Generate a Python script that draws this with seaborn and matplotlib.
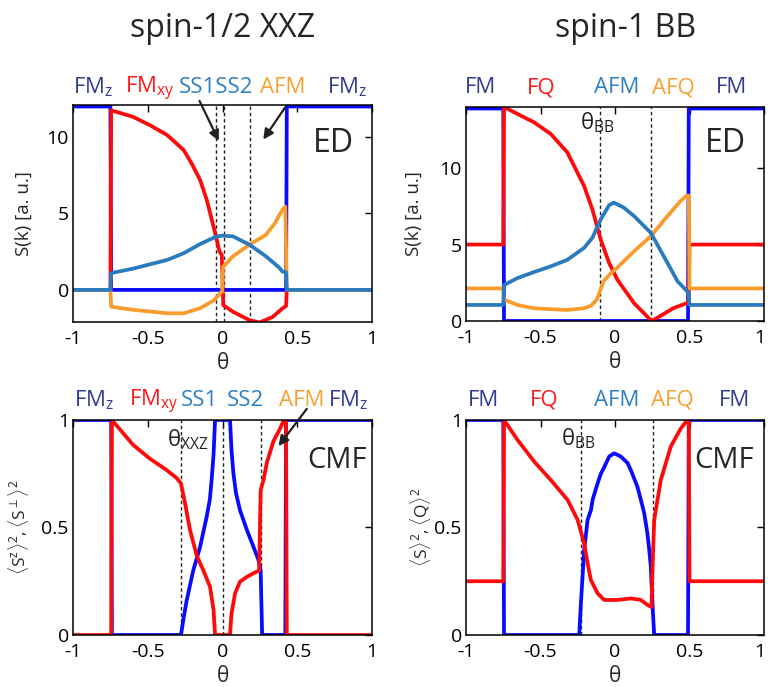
import matplotlib
matplotlib.use("Agg")
import matplotlib.pyplot as plt
import matplotlib.transforms as mtransforms
import seaborn as sns

sns.set_style("white")
plt.rcParams['font.family'] = ['Open Sans', 'DejaVu Sans']
plt.rcParams['mathtext.fontset'] = 'custom'
plt.rcParams['mathtext.rm'] = 'Open Sans'
plt.rcParams['mathtext.it'] = 'Open Sans'
plt.rcParams['mathtext.bf'] = 'Open Sans:bold'
plt.rcParams['axes.unicode_minus'] = False

# ---------------- data ----------------
# spin-1/2 XXZ, ED
xxz_ed_fmz_x = [-1, -0.75, -0.745, 0.425, 0.43, 1]
xxz_ed_fmz_y = [12, 12, 0, 0, 12, 12]
xxz_ed_fmxy_x = [-1, -0.75, -0.745, -0.6, -0.486, -0.37, -0.26, -0.207, -0.15, -0.105,
                 -0.06, -0.02, -0.005, 0.005, 0.07, 0.18, 0.25, 0.335, 0.40, 0.425, 0.43, 1]
xxz_ed_fmxy_y = [0, 0, 11.75, 11.33, 10.78, 10.13, 9.15, 8.28, 7.19, 5.88,
                 4.14, 2.5, 2.3, -1.0, -1.43, -1.98, -2.13, -1.77, -1.22, -1.05, 0, 0]
xxz_ed_ss_x = [-1, -0.75, -0.745, -0.6, -0.37, -0.26, -0.15, -0.04, 0.0, 0.07,
               0.18, 0.29, 0.38, 0.40, 0.425, 0.43, 1]
xxz_ed_ss_y = [0, 0, 1.1, 1.39, 1.96, 2.4, 3.0, 3.5, 3.55, 3.5,
               2.96, 2.2, 1.45, 1.2, 1.15, 0, 0]
xxz_ed_afm_x = [-1, -0.75, -0.745, -0.6, -0.37, -0.26, -0.15, -0.06, -0.02, -0.003,
                0.003, 0.07, 0.18, 0.29, 0.35, 0.40, 0.42, 0.43, 1]
xxz_ed_afm_y = [0, 0, -1.1, -1.3, -1.53, -1.53, -1.2, -0.7, -0.27, -0.1,
                1.5, 2.2, 2.96, 3.6, 4.36, 5.23, 5.45, 0, 0]
xxz_ed_dashes = [-0.045, 0.01, 0.185]

# spin-1 BB, ED
bb_ed_fm_x = [-1, -0.75, -0.745, 0.49, 0.495, 1]
bb_ed_fm_y = [13.9, 13.9, 0, 0, 13.9, 13.9]
bb_ed_fq_x = [-1, -0.75, -0.745, -0.656, -0.544, -0.432, -0.32, -0.208, -0.152, -0.096,
              -0.04, 0.016, 0.128, 0.19, 0.245, 0.30, 0.39, 0.48, 0.495, 0.50, 1]
bb_ed_fq_y = [5, 5, 14.0, 13.55, 13.0, 12.24, 11.03, 8.84, 7.3, 5.33,
              3.8, 2.7, 1.16, 0.55, 0.0, 0.3, 0.83, 1.16, 1.25, 5, 5]
bb_ed_afm_x = [-1, -0.75, -0.745, -0.656, -0.544, -0.432, -0.32, -0.208, -0.152, -0.096,
               -0.04, -0.007, 0.06, 0.128, 0.24, 0.352, 0.419, 0.475, 0.495, 0.50, 1]
bb_ed_afm_y = [1.05, 1.05, 2.35, 2.8, 3.2, 3.57, 4.0, 4.78, 5.44, 6.64,
               7.57, 7.74, 7.41, 6.86, 5.77, 3.8, 2.6, 2.04, 1.8, 1.05, 1.05]
bb_ed_afq_x = [-1, -0.75, -0.745, -0.656, -0.544, -0.432, -0.32, -0.208, -0.16, -0.122,
               -0.077, -0.03, 0.016, 0.128, 0.24, 0.352, 0.44, 0.48, 0.495, 0.50, 1]
bb_ed_afq_y = [2.13, 2.13, 1.4, 1.05, 0.83, 0.77, 0.72, 0.83, 1.0, 1.4,
               2.6, 3.1, 3.5, 4.56, 5.55, 6.86, 7.85, 8.2, 8.2, 2.13, 2.13]
bb_ed_dashes = [-0.1, 0.24]

# spin-1/2 XXZ, CMF
xxz_cmf_sz_x = [-1, -0.745, -0.74, -0.278, -0.26, -0.24, -0.196, -0.15, -0.106, -0.085,
                -0.073, -0.06, -0.05, 0.05, 0.06, 0.073, 0.09, 0.117, 0.162, 0.207,
                0.24, 0.255, 0.265, 0.42, 0.425, 1]
xxz_cmf_sz_y = [1, 1, 0, 0, 0.08, 0.16, 0.30, 0.41, 0.55, 0.63,
                0.72, 0.84, 1.0, 1.0, 0.86, 0.75, 0.66, 0.58, 0.49, 0.41,
                0.35, 0.30, 0, 0, 1, 1]
xxz_cmf_sp_x = [-1, -0.745, -0.74, -0.598, -0.486, -0.374, -0.307, -0.278, -0.25, -0.218,
                -0.173, -0.128, -0.084, -0.06, -0.05, 0.05, 0.06, 0.084, 0.117, 0.162,
                0.207, 0.245, 0.255, 0.274, 0.296, 0.34, 0.385, 0.41, 0.425, 0.43, 1]
xxz_cmf_sp_y = [0, 0, 1.0, 0.884, 0.82, 0.767, 0.73, 0.705, 0.61, 0.49,
                0.37, 0.30, 0.225, 0.116, 0, 0, 0.1, 0.194, 0.248, 0.27,
                0.287, 0.30, 0.674, 0.72, 0.80, 0.90, 0.96, 1.0, 1.0, 0, 0]
xxz_cmf_dashes = [-0.278, 0.0, 0.258]

# spin-1 BB, CMF
bb_cmf_s_x = [-1, -0.75, -0.745, -0.24, -0.229, -0.218, -0.207, -0.184, -0.162, -0.15,
              -0.117, -0.095, -0.073, -0.039, -0.006, 0.039, 0.084, 0.106, 0.15, 0.173,
              0.196, 0.218, 0.229, 0.24, 0.251, 0.263, 0.49, 0.495, 1]
bb_cmf_s_y = [1, 1, 0, 0, 0.147, 0.27, 0.395, 0.535, 0.58, 0.63,
              0.705, 0.75, 0.78, 0.83, 0.845, 0.83, 0.80, 0.767, 0.69, 0.63,
              0.566, 0.47, 0.40, 0.32, 0.147, 0, 0, 1, 1]
bb_cmf_q_x = [-1, -0.75, -0.745, -0.654, -0.542, -0.43, -0.318, -0.251, -0.207, -0.184,
              -0.162, -0.117, -0.073, 0.017, 0.106, 0.173, 0.218, 0.245, 0.251, 0.263,
              0.307, 0.374, 0.441, 0.486, 0.495, 0.50, 1]
bb_cmf_q_y = [0.25, 0.25, 1.0, 0.907, 0.806, 0.72, 0.628, 0.535, 0.426, 0.333,
              0.256, 0.194, 0.163, 0.163, 0.17, 0.163, 0.14, 0.13, 0.30, 0.535,
              0.72, 0.876, 0.96, 1.0, 1.0, 0.25, 0.25]
bb_cmf_dashes = [-0.229, 0.258]

x_ticks = [-1, -0.5, 0, 0.5, 1]
x_ticklabels = ["-1", "-0.5", "0", "0.5", "1"]

# phase labels: (text, x center, colour key)
xxz_ed_phases = [("FM$_\\mathrm{z}$", -0.866, "fm"), ("FM$_\\mathrm{xy}$", -0.485, "red"),
                 ("SS1SS2", -0.043, "ss"), ("AFM", 0.405, "or"), ("FM$_\\mathrm{z}$", 0.833, "fm")]
xxz_cmf_phases = [("FM$_\\mathrm{z}$", -0.86, "fm"), ("FM$_\\mathrm{xy}$", -0.458, "red"),
                  ("SS1", -0.154, "ss"), ("SS2", 0.15, "ss"), ("AFM", 0.532, "or"),
                  ("FM$_\\mathrm{z}$", 0.843, "fm")]
bb_ed_phases = [("FM", -0.906, "fm"), ("FQ", -0.497, "red"), ("AFM", 0.013, "ss"),
                ("AFQ", 0.389, "or"), ("FM", 0.785, "fm")]
bb_cmf_phases = [("FM", -0.886, "fm"), ("FQ", -0.477, "red"), ("AFM", 0.013, "ss"),
                 ("AFQ", 0.383, "or"), ("FM", 0.805, "fm")]

# ---------------- styles ----------------
C_BLUE = "#0a0aff"
C_RED = "#ff0a0a"
C_STEEL = "#2a7bbd"
C_ORANGE = "#f89c2c"
LABEL_COL = {"fm": "#333b92", "red": "#ff1a1a", "ss": "#2c80c3", "or": "#f7a030"}
LW = 2.7

fig = plt.figure(figsize=(7.68, 6.87), dpi=100)
ax_tl = fig.add_axes([0.0951, 0.5313, 0.3893, 0.3159])
ax_tr = fig.add_axes([0.6068, 0.5328, 0.3880, 0.3115])
ax_bl = fig.add_axes([0.0951, 0.0757, 0.3893, 0.3130])
ax_br = fig.add_axes([0.6068, 0.0757, 0.3880, 0.3130])


def line(ax, x, y, c):
    sns.lineplot(x=x, y=y, ax=ax, color=c, lw=LW, estimator=None, sort=False,
                 legend=False)


def style(ax, ylim, yticks, yticklabels, ylabel, ylabcoord, phases, phase_y, dashes,
          nudge_last=False, ylabsize=13.5):
    for d in dashes:
        ax.axvline(d, color="#222222", lw=1.0, ls=(0, (2.5, 2)), zorder=1)
    ax.set_xlim(-1, 1)
    ax.set_ylim(*ylim)
    ax.set_xticks(x_ticks)
    ax.set_xticklabels(x_ticklabels)
    ax.set_yticks(yticks)
    ax.set_yticklabels(yticklabels)
    ax.tick_params(direction="in", top=True, right=True, length=5, width=1,
                   labelsize=14, colors="black")
    ax.tick_params(axis="x", pad=6)
    ax.tick_params(axis="y", pad=3)
    if nudge_last:
        lab = ax.get_xticklabels()[-1]
        lab.set_transform(lab.get_transform() +
                          mtransforms.ScaledTranslation(-4 / 100, 0, fig.dpi_scale_trans))
    for s in ax.spines.values():
        s.set_visible(True)
        s.set_color("black")
        s.set_linewidth(1.1)
    ax.set_xlabel("θ", fontsize=15)
    ax.xaxis.set_label_coords(0.5, -0.145)
    ax.set_ylabel(ylabel, fontsize=ylabsize)
    ax.yaxis.set_label_coords(ylabcoord, 0.5)
    trans = mtransforms.blended_transform_factory(ax.transData, ax.transAxes)
    for txt, xc, key in phases:
        ax.text(xc, phase_y, txt, transform=trans, ha="center", va="baseline",
                fontsize=16, color=LABEL_COL[key], clip_on=False)


# top-left
line(ax_tl, xxz_ed_fmz_x, xxz_ed_fmz_y, C_BLUE)
line(ax_tl, xxz_ed_fmxy_x, xxz_ed_fmxy_y, C_RED)
line(ax_tl, xxz_ed_afm_x, xxz_ed_afm_y, C_ORANGE)
line(ax_tl, xxz_ed_ss_x, xxz_ed_ss_y, C_STEEL)
style(ax_tl, (-2.1, 12.1), [0, 5, 10], ["0", "5", "10"], "S(k) [a. u.]", -0.135,
      xxz_ed_phases, 1.055, xxz_ed_dashes)
ax_tl.text(0.74, 9.6, "ED", fontsize=23, ha="center", va="center")
arrow = dict(arrowstyle="-|>,head_length=0.6,head_width=0.3", color="#222222", lw=1.6)
ax_tl.annotate("", xy=(-0.017, 9.59), xytext=(-0.162, 12.53), arrowprops=arrow,
               annotation_clip=False)
ax_tl.annotate("", xy=(0.262, 9.69), xytext=(0.429, 12.09), arrowprops=arrow,
               annotation_clip=False)

# top-right
line(ax_tr, bb_ed_fm_x, bb_ed_fm_y, C_BLUE)
line(ax_tr, bb_ed_fq_x, bb_ed_fq_y, C_RED)
line(ax_tr, bb_ed_afq_x, bb_ed_afq_y, C_ORANGE)
line(ax_tr, bb_ed_afm_x, bb_ed_afm_y, C_STEEL)
style(ax_tr, (0, 14), [0, 5, 10], ["0", "5", "10"], "S(k) [a. u.]", -0.145,
      bb_ed_phases, 1.065, bb_ed_dashes, nudge_last=True)
ax_tr.text(0.743, 11.6, "ED", fontsize=23, ha="center", va="center")
ax_tr.text(-0.235, 13.0, "θ$_\\mathrm{BB}$", fontsize=16, ha="left", va="center",
           color="#222222")

# bottom-left
line(ax_bl, xxz_cmf_sz_x, xxz_cmf_sz_y, C_BLUE)
line(ax_bl, xxz_cmf_sp_x, xxz_cmf_sp_y, C_RED)
style(ax_bl, (0, 1), [0, 0.5, 1], ["0", "0.5", "1"],
      r"$\langle \mathrm{S}^{z}\rangle^{2}, \langle \mathrm{S}^{\perp}\rangle^{2}$", -0.14,
      xxz_cmf_phases, 1.065, xxz_cmf_dashes, ylabsize=12.5)
ax_bl.text(0.765, 0.81, "CMF", fontsize=21, ha="center", va="center")
ax_bl.text(-0.374, 0.907, "θ$_\\mathrm{XXZ}$", fontsize=16, ha="left", va="center",
           color="#222222")
ax_bl.annotate("", xy=(0.363, 0.868), xytext=(0.575, 1.062), arrowprops=arrow,
               annotation_clip=False)

# bottom-right
line(ax_br, bb_cmf_s_x, bb_cmf_s_y, C_BLUE)
line(ax_br, bb_cmf_q_x, bb_cmf_q_y, C_RED)
style(ax_br, (0, 1), [0, 0.5, 1], ["0", "0.5", "1"],
      r"$\langle \mathrm{S}\rangle^{2}, \langle \mathrm{Q}\rangle^{2}$", -0.11,
      bb_cmf_phases, 1.065, bb_cmf_dashes, nudge_last=True, ylabsize=12.5)
ax_br.text(0.73, 0.81, "CMF", fontsize=21, ha="center", va="center")
ax_br.text(-0.364, 0.915, "θ$_\\mathrm{BB}$", fontsize=16, ha="left", va="center",
           color="#222222")

fig.text(223 / 768, 1 - 37 / 687, "spin-1/2 XXZ", ha="center", va="baseline", fontsize=23)
fig.text(626 / 768, 1 - 37 / 687, "spin-1 BB", ha="center", va="baseline", fontsize=23)

fig.savefig("out.png", dpi=100)
